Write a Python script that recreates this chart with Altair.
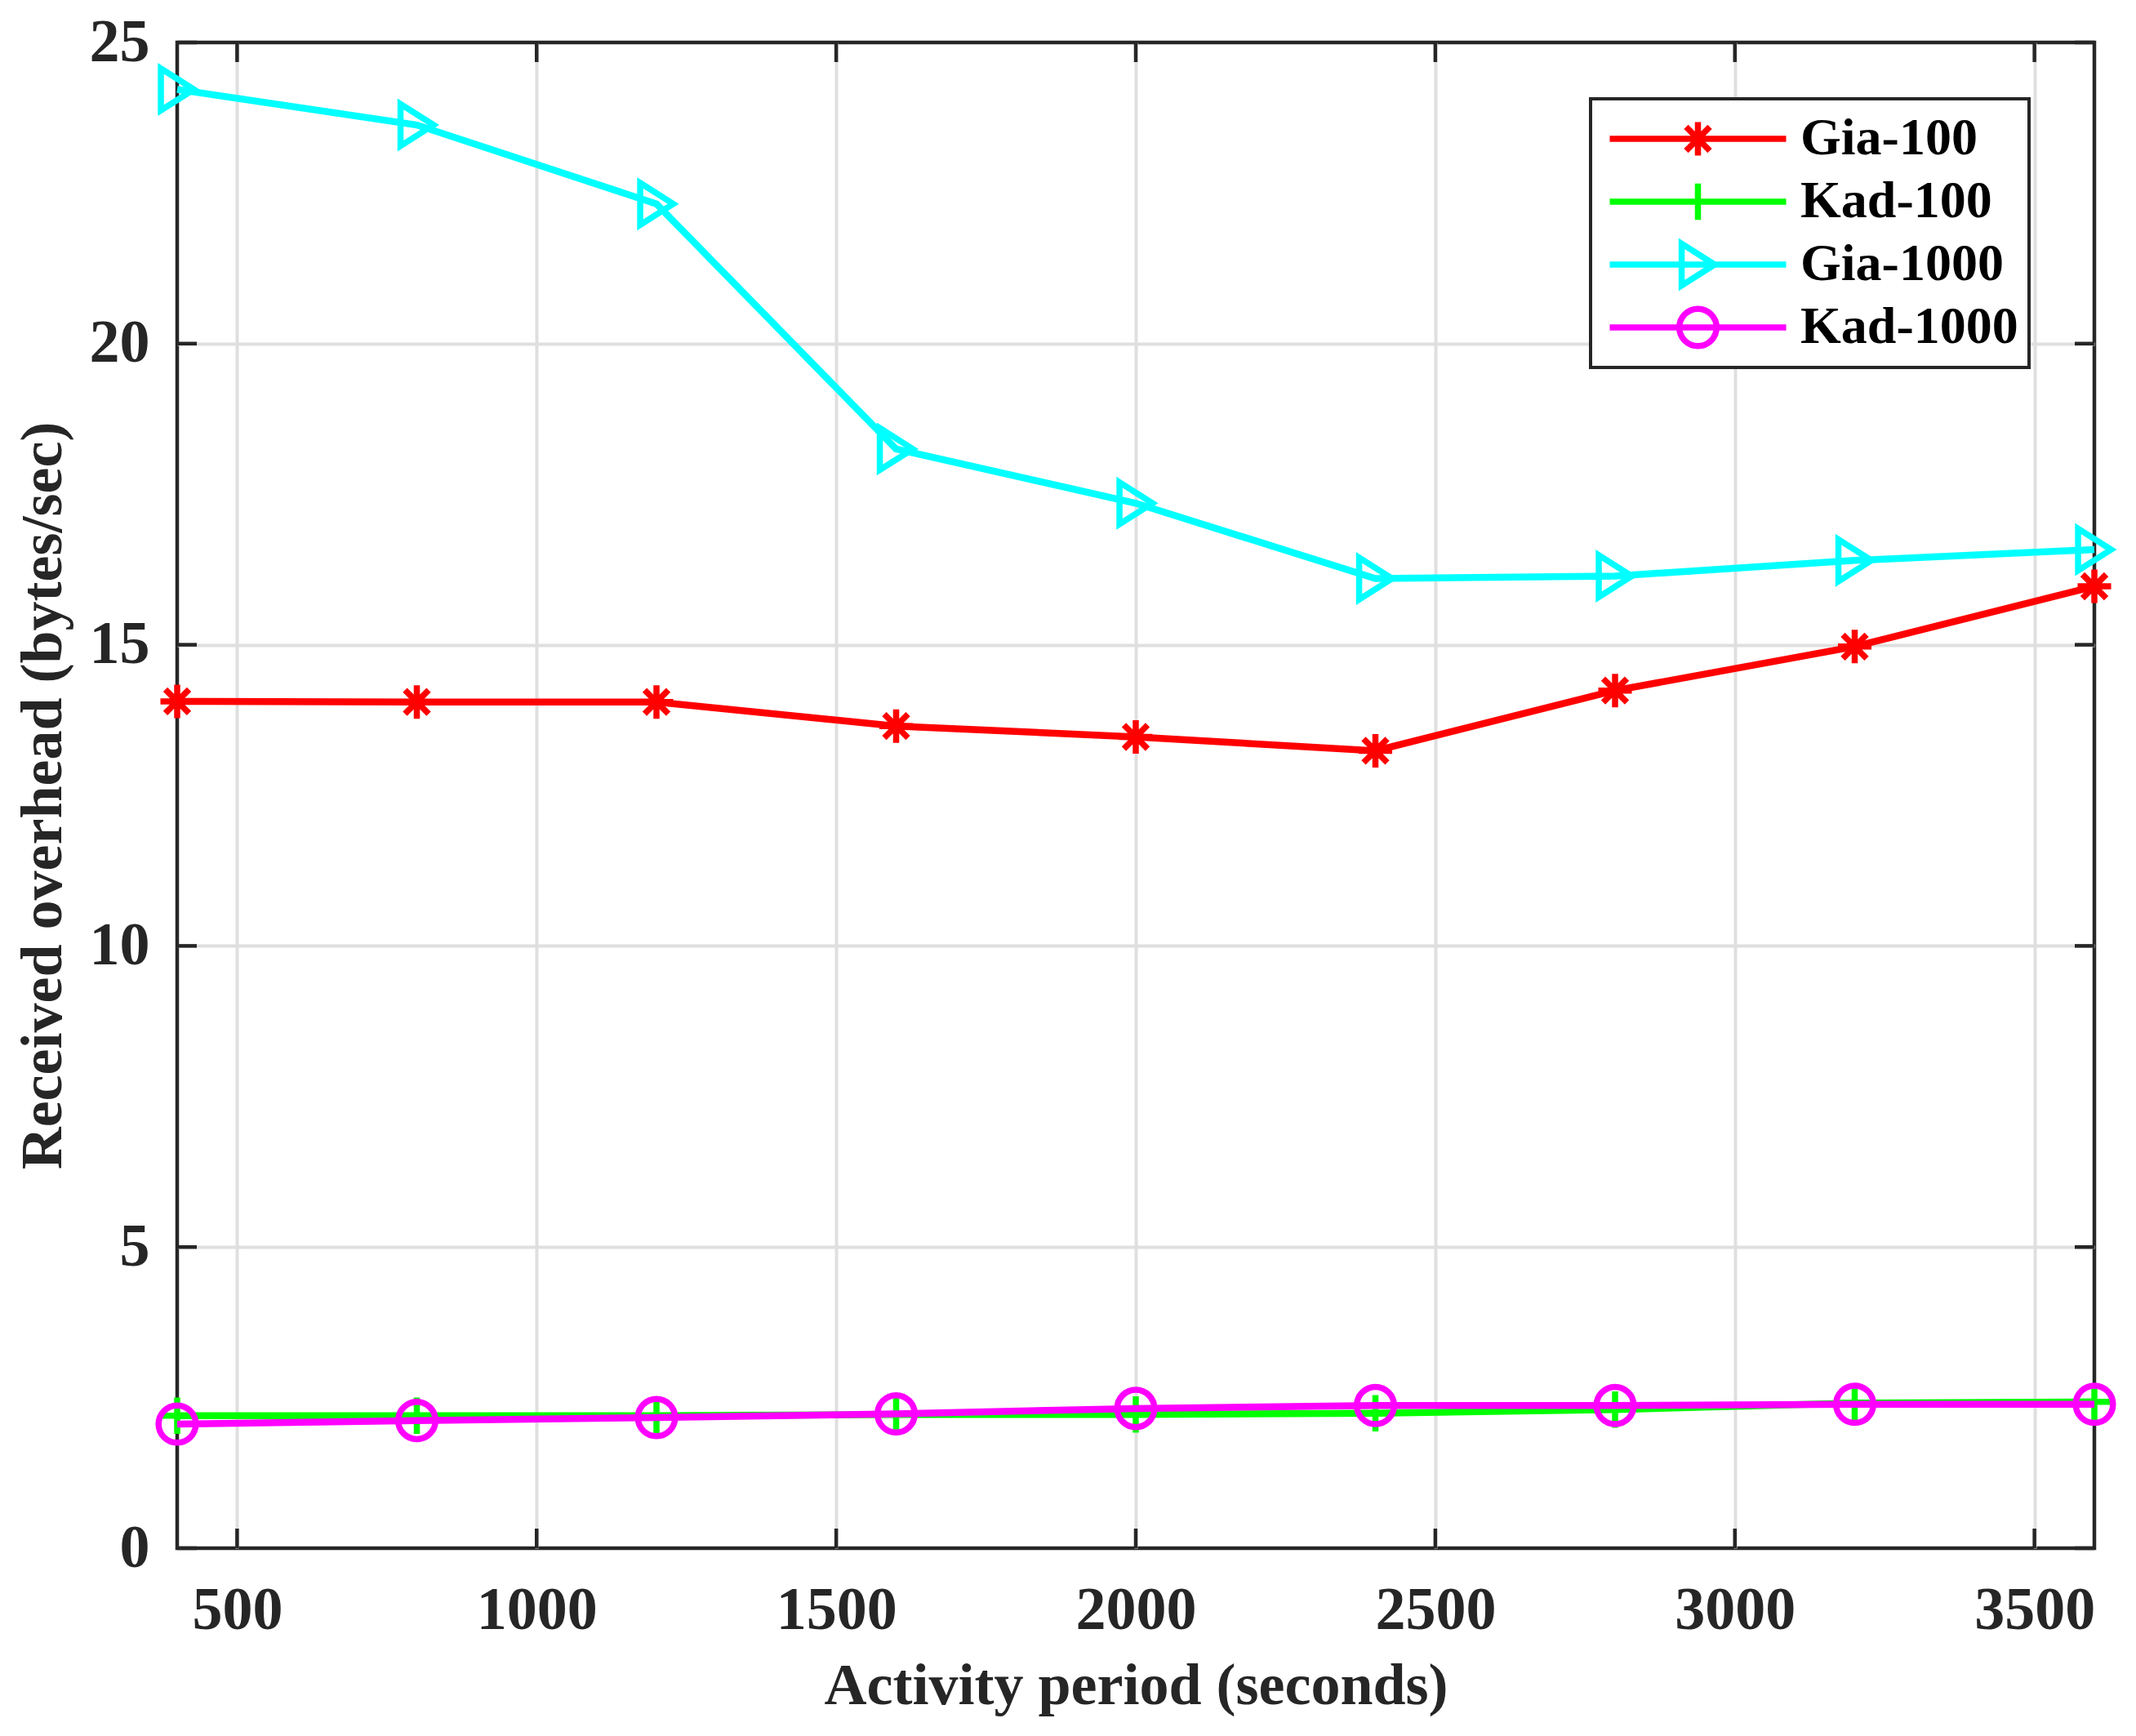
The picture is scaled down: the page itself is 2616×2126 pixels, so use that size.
import altair as alt
import pandas as pd

# ---------------- data ----------------
periods = [400, 800, 1200, 1600, 2000, 2400, 2800, 3200, 3600]
gia_100 = [14.06, 14.05, 14.05, 13.65, 13.47, 13.24, 14.24, 14.97, 15.97]
kad_100 = [2.20, 2.20, 2.20, 2.22, 2.22, 2.24, 2.30, 2.41, 2.43]
gia_1000 = [24.22, 23.63, 22.32, 18.25, 17.35, 16.10, 16.14, 16.40, 16.58]
kad_1000 = [2.06, 2.12, 2.17, 2.23, 2.32, 2.37, 2.37, 2.39, 2.39]

series_names = ["Gia-100", "Kad-100", "Gia-1000", "Kad-1000"]
series_values = [gia_100, kad_100, gia_1000, kad_1000]
series_colors = ["#ff0000", "#00ff00", "#00ffff", "#ff00ff"]

x_ticks = [500, 1000, 1500, 2000, 2500, 3000, 3500]
y_ticks = [0, 5, 10, 15, 20, 25]

# ---------------- styles ----------------
W, H = 2348, 1844
TICK = 24
AX = "#262626"
FONT = "Liberation Serif"
MSIZE = 3249  # symbol area -> r = 28.5 px

marker_paths = [
    "M0,-0.72L0,0.72M-0.72,0L0.72,0M-0.51,-0.51L0.51,0.51M-0.51,0.51L0.51,-0.51",
    "M0,-0.78L0,0.78M-0.78,0L0.78,0",
    "M-0.7,-0.9L0.72,0L-0.7,0.9Z",
    "M0.8,0A0.8,0.8 0 1,1 -0.8,0A0.8,0.8 0 1,1 0.8,0Z",
]
legend_line = "M-3.79,0L3.79,0"
legend_paths = [p + legend_line for p in marker_paths]

rows = []
for name, vals in zip(series_names, series_values):
    for p, v in zip(periods, vals):
        rows.append({"period": p, "value": v, "series": name, "label": name})
df = pd.DataFrame(rows)

x_scale = alt.Scale(domain=[400, 3600], nice=False, zero=False)
y_scale = alt.Scale(domain=[0, 25], nice=False, zero=True)

x_axis = alt.Axis(
    values=x_ticks, format="d", title="Activity period (seconds)",
    labelPadding=40, titlePadding=20, labelFlush=False,
)
y_axis = alt.Axis(
    values=y_ticks, format="d", title="Received overhead (bytes/sec)",
    labelPadding=34, titlePadding=20, labelFlush=False,
    gridColor={"condition": {"test": "datum.value === 0 || datum.value === 25",
                             "value": "transparent"}, "value": "#dfdfdf"},
)

X = alt.X("period:Q", scale=x_scale, axis=x_axis)
Y = alt.Y("value:Q", scale=y_scale, axis=y_axis)

color_scale = alt.Scale(domain=series_names, range=series_colors)
shape_scale = alt.Scale(domain=series_names, range=marker_paths)
legend_shape_scale = alt.Scale(domain=series_names, range=legend_paths)

legend = alt.Legend(
    title=None, orient="none", legendX=1731, legendY=69,
    symbolSize=MSIZE, symbolStrokeWidth=7.5, symbolOffset=86,
    symbolFillColor="transparent", symbolOpacity=1,
    labelOffset=93, rowPadding=5, padding=13, clipHeight=72,
    labelFont=FONT, labelFontSize=64, labelFontWeight="bold", labelColor="#000000",
    labelLimit=0,
)

tick_x = pd.DataFrame({"period": x_ticks})
tick_y = pd.DataFrame({"value": y_ticks})

layers = [
    alt.Chart(tick_x).mark_rule(color=AX, strokeWidth=4.5).encode(
        x=X, y=alt.value(H), y2=alt.value(H - TICK)),
    alt.Chart(tick_x).mark_rule(color=AX, strokeWidth=4.5).encode(
        x=X, y=alt.value(0), y2=alt.value(TICK)),
    alt.Chart(tick_y).mark_rule(color=AX, strokeWidth=4.5).encode(
        y=Y, x=alt.value(0), x2=alt.value(TICK)),
    alt.Chart(tick_y).mark_rule(color=AX, strokeWidth=4.5).encode(
        y=Y, x=alt.value(W), x2=alt.value(W - TICK)),
]

for name in series_names:
    sub = df[df["series"] == name]
    base = alt.Chart(sub)
    layers.append(
        base.mark_line(strokeWidth=8.5).encode(
            x=X, y=Y,
            color=alt.Color("series:N", scale=color_scale, legend=None),
        )
    )
    layers.append(
        base.mark_point(filled=False, strokeWidth=7.5, size=MSIZE, opacity=1).encode(
            x=X, y=Y,
            color=alt.Color("series:N", scale=color_scale, legend=None),
            shape=alt.Shape("series:N", scale=shape_scale, legend=None),
        )
    )

# legend-only layer (no rows drawn, legend built from the explicit scale domain)
layers.append(
    alt.Chart(df).transform_filter("false").mark_point(
        filled=False, strokeWidth=7.5, size=MSIZE, opacity=1
    ).encode(
        x=X, y=Y,
        color=alt.Color("label:N", scale=color_scale, legend=legend, sort=series_names),
        shape=alt.Shape("label:N", scale=legend_shape_scale, legend=legend, sort=series_names),
    )
)

chart = alt.layer(*layers).resolve_scale(
    color="independent", shape="independent"
).properties(
    width=W, height=H,
    autosize=alt.AutoSizeParams(type="none"),
    padding={"left": 209, "top": 44, "right": 43, "bottom": 220},
    background="white",
).configure_view(
    stroke=AX, strokeWidth=4.5,
).configure_axis(
    labelFont=FONT, labelFontSize=74, labelFontWeight="bold", labelColor=AX,
    titleFont=FONT, titleFontSize=72, titleFontWeight="bold", titleColor=AX,
    domain=False, ticks=False, grid=True, gridColor="#dfdfdf", gridWidth=4,
).configure_legend(
    strokeColor=AX, strokeWidth=4, fillColor="white", cornerRadius=0,
)

chart.save("out.html", embed_options={"renderer": "svg", "actions": False})
